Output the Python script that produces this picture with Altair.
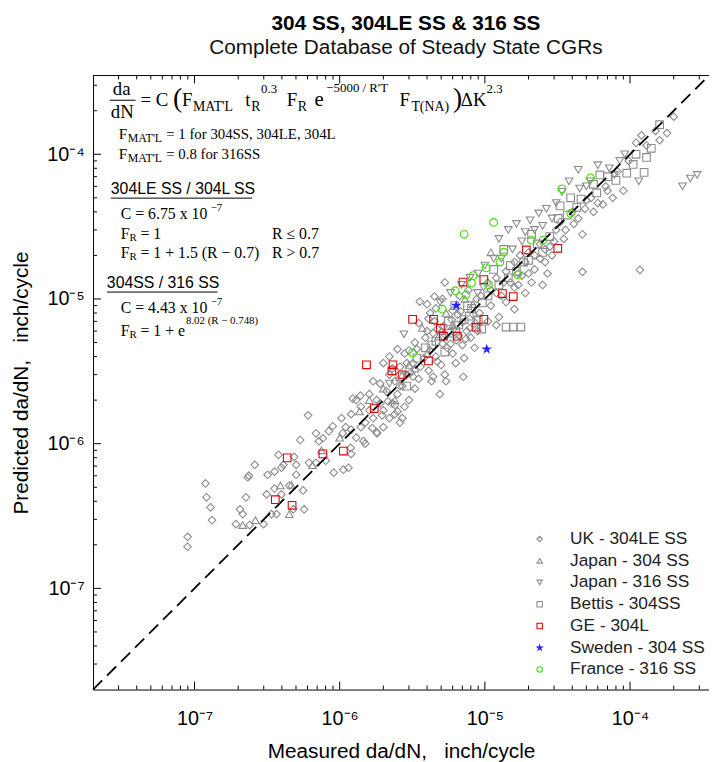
import altair as alt
import pandas as pd

# ---------------- data ----------------
SERIES = ["UK - 304LE SS", "Japan - 304 SS", "Japan - 316 SS", "Bettis - 304SS",
          "GE - 304L", "Sweden - 304 SS", "France - 316 SS"]

# (measured da/dN, predicted da/dN)  inch/cycle
UK = [
    (8.96e-8, 2.27e-7), (8.96e-8, 1.94e-7), (1.19e-7, 5.31e-7), (1.21e-7, 4.26e-7), (1.29e-7, 3.63e-7),
    (1.32e-7, 2.96e-7), (1.93e-7, 2.78e-7), (2.06e-7, 3.52e-7), (2.15e-7, 3.26e-7), (2.26e-7, 4.26e-7),
    (2.33e-7, 5.84e-7), (2.37e-7, 6.02e-7), (2.60e-7, 7.14e-7), (3.19e-7, 6.10e-7), (3.56e-7, 6.41e-7),
    (3.79e-7, 8.38e-7), (3.97e-7, 6.82e-7), (4.86e-7, 8.11e-7), (5.35e-7, 1.06e-6), (6.06e-7, 1.57e-6),
    (6.87e-7, 1.18e-6), (7.20e-7, 1.04e-6), (7.66e-7, 1.09e-6), (8.42e-7, 1.22e-6), (8.96e-7, 1.32e-6),
    (1.03e-6, 1.50e-6), (1.05e-6, 1.18e-6), (1.15e-6, 6.82e-7), (1.06e-6, 6.61e-7), (9.10e-7, 6.30e-7),
    (1.19e-6, 9.35e-7), (1.46e-6, 1.04e-6), (1.68e-6, 1.28e-6), (1.81e-6, 1.18e-6), (1.96e-6, 1.57e-6),
    (4.50e-7, 5.14e-7), (5.02e-7, 6.10e-7), (5.60e-7, 4.75e-7), (5.69e-7, 3.52e-7), (3.14e-7, 4.46e-7),
    (3.56e-7, 4.90e-7), (3.97e-7, 4.46e-7), (3.67e-7, 3.26e-7), (3.39e-7, 3.26e-7), (2.99e-7, 2.78e-7),
    (2.40e-7, 2.74e-7), (4.79e-7, 3.52e-7), (4.10e-7, 7.14e-7), (5.02e-7, 7.14e-7), (6.15e-7, 7.38e-7),
    (6.87e-7, 7.38e-7), (8.03e-7, 7.62e-7), (1.39e-6, 2.15e-6), (1.23e-6, 2.05e-6), (2.15e-6, 1.96e-6),
    (1.1e-6, 1.3e-6), (1.2e-6, 1.6e-6), (1.3e-6, 1.1e-6), (1.4e-6, 1.8e-6), (1.5e-6, 1.4e-6),
    (1.6e-6, 2.2e-6), (1.7e-6, 1.5e-6), (1.8e-6, 2.0e-6), (1.9e-6, 2.6e-6), (2.0e-6, 1.7e-6),
    (2.1e-6, 2.3e-6), (2.2e-6, 3.0e-6), (2.3e-6, 1.9e-6), (2.4e-6, 2.7e-6), (2.5e-6, 2.2e-6),
    (2.6e-6, 3.4e-6), (2.7e-6, 2.5e-6), (2.8e-6, 1.8e-6), (2.9e-6, 3.0e-6), (1.5e-6, 1.0e-6),
    (2.0e-6, 1.3e-6), (2.4e-6, 1.6e-6), (1.3e-6, 2.0e-6), (1.7e-6, 2.7e-6), (2.2e-6, 4.0e-6),
    (2.5e-6, 4.5e-6), (2.8e-6, 4.2e-6), (2.0e-6, 3.6e-6), (1.2e-6, 8.5e-7), (1.8e-6, 1.2e-6),
    (3.0e-6, 2.0e-6), (2.6e-6, 1.4e-6), (2.2e-6, 1.5e-6),
    (3.56e-6, 9.6e-6), (4.0e-6, 9.2e-6), (5.3e-6, 1.3e-5), (4.5e-6, 1.04e-5), (7.1e-6, 2.9e-6),
    (4.9e-6, 2.2e-6), (5.4e-6, 2.7e-6), (4.3e-6, 2.7e-6), (2.7e-6, 1.5e-6), (2.4e-6, 1.85e-6),
    (2.5e-6, 1.67e-6),
    (3.2e-6, 3.6e-6), (3.4e-6, 4.5e-6), (3.5e-6, 2.8e-6), (3.8e-6, 3.9e-6), (4.0e-6, 6.0e-6),
    (4.1e-6, 3.2e-6), (4.5e-6, 7.0e-6), (4.6e-6, 4.0e-6), (5.0e-6, 3.5e-6), (5.2e-6, 6.5e-6),
    (5.5e-6, 4.6e-6), (5.9e-6, 7.2e-6), (6.0e-6, 4.2e-6), (6.4e-6, 5.2e-6), (6.8e-6, 8.2e-6),
    (7.0e-6, 4.8e-6), (7.5e-6, 6.0e-6), (8.0e-6, 5.4e-6), (8.6e-6, 6.8e-6), (9.2e-6, 8.0e-6),
    (3.0e-6, 4.4e-6), (3.3e-6, 2.4e-6), (4.2e-6, 8.0e-6), (4.4e-6, 2.9e-6), (5.3e-6, 3.0e-6),
    (6.3e-6, 3.6e-6), (7.2e-6, 3.9e-6), (8.5e-6, 4.6e-6), (3.1e-6, 3.1e-6), (4.7e-6, 6.2e-6),
    (6.5e-6, 7.8e-6), (8.8e-6, 1.0e-5),
    (3.3e-6, 5.0e-6), (3.6e-6, 3.4e-6), (3.9e-6, 5.4e-6), (4.2e-6, 4.4e-6), (4.4e-6, 5.8e-6),
    (4.7e-6, 3.7e-6), (5.1e-6, 4.9e-6), (5.4e-6, 5.6e-6), (5.8e-6, 4.9e-6), (6.1e-6, 6.2e-6),
    (6.6e-6, 5.6e-6), (7.0e-6, 6.9e-6), (7.4e-6, 5.3e-6), (7.9e-6, 6.3e-6), (8.3e-6, 7.8e-6),
    (8.9e-6, 6.0e-6), (9.4e-6, 1.05e-5), (3.5e-6, 6.8e-6), (4.1e-6, 7.3e-6), (4.6e-6, 8.6e-6),
    (5.1e-6, 1.0e-5), (6.0e-6, 8.3e-6), (6.7e-6, 1.05e-5), (7.7e-6, 1.15e-5), (2.6e-6, 2.5e-6),
    (2.9e-6, 3.6e-6), (3.2e-6, 2.9e-6), (2.3e-6, 3.3e-6), (1.9e-6, 1.9e-6), (1.6e-6, 1.7e-6),
    (1.4e-6, 1.3e-6), (1.2e-6, 1.25e-6),
    (1.05e-5, 1.3e-5), (1.1e-5, 9.0e-6), (1.2e-5, 1.1e-5), (1.25e-5, 7.5e-6), (1.35e-5, 1.3e-5),
    (1.4e-5, 9.5e-6), (1.6e-5, 1.2e-5), (1.7e-5, 1.5e-5), (1.9e-5, 1.1e-5), (2.0e-5, 2.1e-5),
    (2.2e-5, 1.6e-5), (2.4e-5, 1.9e-5), (2.6e-5, 2.2e-5), (2.7e-5, 1.5e-5), (2.9e-5, 2.0e-5),
    (1.2e-5, 6.6e-6), (1.6e-5, 8.5e-6), (2.1e-5, 1.3e-5), (2.5e-5, 1.25e-5), (1.05e-5, 7.0e-6),
    (1.75e-5, 2.0e-5),
    (1.1e-5, 1.15e-5), (1.2e-5, 1.4e-5), (1.3e-5, 1.05e-5), (1.4e-5, 1.55e-5), (1.5e-5, 1.3e-5),
    (1.6e-5, 1.8e-5), (1.7e-5, 1.25e-5), (1.8e-5, 1.45e-5), (1.9e-5, 1.8e-5), (2.0e-5, 1.5e-5),
    (2.2e-5, 2.0e-5), (2.4e-5, 2.4e-5), (2.6e-5, 1.8e-5), (2.8e-5, 2.3e-5), (3.0e-5, 2.5e-5),
    (3.1e-5, 3.0e-5), (3.5e-5, 2.6e-5), (4.1e-5, 3.3e-5), (4.7e-5, 2.8e-5), (5.6e-5, 4.0e-5),
    (6.5e-5, 4.5e-5), (7.6e-5, 5.0e-5), (9.0e-5, 5.6e-5), (4.7e-5, 1.54e-5), (1.17e-4, 1.59e-5),
    (5.0e-5, 4.8e-5), (6.8e-5, 6.0e-5),
    (3.3e-5, 3.4e-5), (3.6e-5, 3.0e-5), (4.0e-5, 4.0e-5), (4.4e-5, 3.6e-5), (4.9e-5, 4.2e-5),
    (5.4e-5, 5.0e-5), (6.0e-5, 4.6e-5), (7.0e-5, 5.6e-5), (8.2e-5, 7.6e-5), (9.8e-5, 9.0e-5),
    (2.0e-4, 1.82e-4), (1.2e-4, 1.35e-4), (1.1e-4, 1.2e-4), (1.6e-4, 1.25e-4), (1.3e-4, 1.15e-4),
    (1.5e-4, 1.45e-4), (1.8e-4, 1.4e-4),
]
JAPAN_304 = [
    (2.63e-7, 2.96e-7), (2.15e-7, 2.74e-7), (4.5e-7, 3.26e-7), (4.64e-7, 5.2e-7), (3.9e-7, 5.14e-7),
    (1.37e-6, 1.67e-6), (6.5e-7, 7.1e-7), (2.0e-6, 2.4e-6), (2.7e-6, 3.0e-6), (2.4e-6, 2.0e-6),
    (4.8e-6, 5.5e-6), (3.7e-6, 6.3e-6), (5.4e-6, 8.0e-6), (7.3e-6, 1.0e-5), (8.3e-6, 9.2e-6),
    (3.3e-6, 3.3e-6), (1.1e-5, 2.1e-5), (3.0e-6, 3.5e-6), (4.0e-6, 4.2e-6), (5.0e-6, 6.0e-6),
    (6.0e-6, 6.6e-6), (1.6e-6, 2.0e-6), (1.0e-6, 1.1e-6), (7.5e-7, 9.0e-7),
]
JAPAN_316 = [
    (2.77e-6, 5.7e-6), (2.2e-6, 2.6e-6),
    (4.9e-6, 9.5e-6), (5.8e-6, 1.1e-5), (6.9e-6, 1.25e-5), (7.9e-6, 1.4e-5), (9.0e-6, 1.5e-5),
    (8.9e-6, 1.1e-5), (9.8e-6, 1.2e-5),
    (1.3e-5, 1.9e-5), (1.55e-5, 2.2e-5), (1.8e-5, 2.5e-5), (2.5e-5, 3.2e-5), (2.9e-5, 3.6e-5),
    (1.25e-5, 2.6e-5), (1.45e-5, 3.0e-5), (1.65e-5, 3.3e-5), (2.05e-5, 3.5e-5), (2.35e-5, 3.9e-5),
    (2.65e-5, 4.2e-5),
    (4.5e-5, 5.8e-5), (5.3e-5, 6.5e-5), (7.2e-5, 8.0e-5), (8.5e-5, 9.0e-5), (3.4e-5, 5.5e-5),
    (3.8e-5, 6.5e-5), (4.4e-5, 7.8e-5),
    (2.6e-4, 6.8e-5), (2.9e-4, 7.2e-5), (1.15e-4, 6.5e-5),
    (1.0e-5, 1.7e-5), (1.15e-5, 1.9e-5), (1.9e-5, 2.9e-5), (2.2e-5, 3.0e-5), (3.1e-5, 4.6e-5),
    (5.0e-5, 6.0e-5), (6.0e-5, 8.4e-5), (7.8e-5, 7.2e-5), (9.2e-5, 1.0e-4), (2.3e-4, 6.0e-5),
]
BETTIS = [
    (2.6e-6, 2.9e-6), (2.9e-6, 2.5e-6),
    (4.3e-6, 4.8e-6), (5.7e-6, 5.8e-6), (6.6e-6, 6.6e-6), (7.8e-6, 7.6e-6), (9.5e-6, 6.2e-6),
    (3.9e-6, 4.6e-6), (5.6e-6, 7.0e-6), (7.6e-6, 9.0e-6), (9.6e-6, 9.4e-6), (6.2e-6, 9.0e-6),
    (1.15e-5, 1.6e-5), (1.5e-5, 1.7e-5), (1.85e-5, 1.8e-5), (2.3e-5, 2.4e-5), (2.8e-5, 2.7e-5),
    (1.35e-5, 2.2e-5), (1.4e-5, 6.4e-6), (1.57e-5, 6.4e-6), (1.77e-5, 6.4e-6), (2.1e-5, 2.8e-5),
    (3.7e-5, 3.8e-5), (4.3e-5, 4.3e-5), (5.9e-5, 5.4e-5), (8.0e-5, 6.6e-5), (9.5e-5, 7.4e-5),
    (3.3e-5, 4.4e-5), (6.2e-5, 7.2e-5), (3.9e-5, 5.0e-5),
    (1.05e-4, 8.5e-5), (1.3e-4, 9.5e-5), (1.4e-4, 1.1e-4), (1.25e-4, 7.5e-5),
    (3.4e-6, 3.9e-6), (4.6e-6, 5.1e-6), (5.3e-6, 4.3e-6), (6.3e-6, 6.0e-6), (7.2e-6, 7.2e-6),
    (8.1e-6, 8.6e-6), (9.0e-6, 7.1e-6), (1.05e-5, 1.05e-5), (1.25e-5, 1.25e-5), (1.45e-5, 1.4e-5),
    (1.65e-5, 1.55e-5), (2.0e-5, 1.85e-5), (2.5e-5, 2.1e-5), (3.2e-5, 3.6e-5), (4.6e-5, 4.9e-5),
    (5.6e-5, 6.2e-5), (7.0e-5, 7.0e-5), (1.1e-4, 1.0e-4), (1.6e-4, 1.6e-4),
]
GE = [
    (1.93e-5, 2.18e-5), (3.18e-5, 2.24e-5), (7.08e-6, 1.31e-5), (9.84e-6, 1.36e-5), (1.32e-5, 1.09e-5),
    (1.57e-5, 1.04e-5), (3.18e-6, 7.23e-6), (4.43e-6, 7.23e-6), (9.84e-6, 7.23e-6), (4.94e-6, 6.28e-6),
    (8.69e-6, 6.38e-6), (5.18e-6, 5.53e-6), (6.46e-6, 5.53e-6), (4.09e-6, 3.73e-6), (1.53e-6, 3.51e-6),
    (2.33e-6, 3.51e-6), (2.29e-6, 3.19e-6), (2.69e-6, 2.99e-6), (1.73e-6, 1.75e-6), (4.35e-7, 7.98e-7),
    (7.66e-7, 8.5e-7), (1.06e-6, 8.9e-7), (3.6e-7, 4.1e-7), (4.7e-7, 3.75e-7),
]
SWEDEN = [(6.35e-6, 9.0e-6), (1.03e-5, 4.5e-6)]
FRANCE = [
    (1.35e-5, 2.11e-5), (1.27e-5, 1.80e-5), (1.02e-5, 1.64e-5), (8.3e-6, 1.45e-5), (8.1e-6, 1.29e-5),
    (1.06e-5, 1.25e-5), (1.68e-5, 1.47e-5), (6.25e-6, 1.14e-5), (7.43e-6, 1.07e-5), (5.09e-6, 8.5e-6),
    (3.18e-6, 4.24e-6), (3.4e-5, 5.77e-5), (5.35e-5, 6.87e-5), (3.9e-5, 3.9e-5), (1.15e-5, 3.38e-5),
    (7.2e-6, 2.8e-5), (2.09e-5, 2.55e-5), (2.52e-5, 2.55e-5),
]

DOMAIN = [2e-8, 3.5e-4]
ONE_TO_ONE = [2e-8, 3.5e-4]
MAJOR = [1e-7, 1e-6, 1e-5, 1e-4]
MAJOR_LABELS = ["10⁻⁷", "10⁻⁶", "10⁻⁵", "10⁻⁴"]
MINOR = [3e-8, 4e-8, 5e-8, 6e-8, 7e-8, 8e-8, 9e-8,
         2e-7, 3e-7, 4e-7, 5e-7, 6e-7, 7e-7, 8e-7, 9e-7,
         2e-6, 3e-6, 4e-6, 5e-6, 6e-6, 7e-6, 8e-6, 9e-6,
         2e-5, 3e-5, 4e-5, 5e-5, 6e-5, 7e-5, 8e-5, 9e-5,
         2e-4, 3e-4]

STAR = ("M0,-1L0.2245,-0.309L0.951,-0.309L0.363,0.118L0.588,0.809L0,0.382"
        "L-0.588,0.809L-0.363,0.118L-0.951,-0.309L-0.2245,-0.309Z")
SHAPES = ["diamond", "triangle-up", "triangle-down", "square", "square", STAR, "circle"]
GRAY = "#8c8c8c"
STROKES = [GRAY, GRAY, GRAY, GRAY, "#e40000", "#2424ff", "#3fe000"]
FILLS = ["transparent", "transparent", "transparent", "transparent", "transparent", "#2424ff", "transparent"]
WIDTHS = [1.1, 1.1, 1.1, 1.1, 2.6, 1.0, 2.6]

# ---------------- build tables ----------------
def frame(name, pts):
    return pd.DataFrame({"series": name, "measured": [p[0] for p in pts], "predicted": [p[1] for p in pts]})

gray_df = pd.concat([frame(SERIES[0], UK), frame(SERIES[1], JAPAN_304),
                     frame(SERIES[2], JAPAN_316), frame(SERIES[3], BETTIS)], ignore_index=True)
color_df = pd.concat([frame(SERIES[4], GE), frame(SERIES[5], SWEDEN),
                      frame(SERIES[6], FRANCE)], ignore_index=True)
line_df = pd.DataFrame({"measured": ONE_TO_ONE, "predicted": ONE_TO_ONE})
ONE = pd.DataFrame({"k": [0]})

W, H = 623, 621
OX, OY = 94, 72  # page position of plot origin
SANS = "Liberation Sans"
SERIF = "Liberation Serif"

label_expr = " : ".join(
    f"datum.value < {m * 3:.0e} ? '{lab}'" for m, lab in zip(MAJOR[:-1], MAJOR_LABELS[:-1])
) + f" : '{MAJOR_LABELS[-1]}'"

xscale = alt.Scale(type="log", domain=DOMAIN, nice=False)
yscale = alt.Scale(type="log", domain=DOMAIN, nice=False)

x_axis = alt.Axis(values=MAJOR, labelExpr=label_expr, ticks=False, grid=False,
                  title="Measured da/dN,\u00a0\u00a0 inch/cycle", labelFontSize=20, labelPadding=19,
                  titleFontSize=21, titleFontWeight="normal", titlePadding=13, labelFlush=False)
y_axis = alt.Axis(values=MAJOR, labelExpr=label_expr, ticks=False, grid=False,
                  title="Predicted da/dN,\u00a0\u00a0 inch/cycle", labelFontSize=20, labelPadding=9,
                  titleFontSize=21, titleFontWeight="normal", titlePadding=15, labelFlush=False)

X_ENC = alt.X("measured:Q", scale=xscale, axis=x_axis)
Y_ENC = alt.Y("predicted:Q", scale=yscale, axis=y_axis)

leg = alt.Legend(title=None, orient="none", legendX=443, legendY=460, labelFontSize=17.5,
                 labelFont=SANS, labelColor="#222222", symbolSize=30, labelOffset=22,
                 rowPadding=3, padding=0)

def point_layer(df):
    return alt.Chart(df).mark_point(filled=False, size=60, opacity=1).encode(
        x=X_ENC, y=Y_ENC,
        shape=alt.Shape("series:N", scale=alt.Scale(domain=SERIES, range=SHAPES), legend=leg),
        stroke=alt.Stroke("series:N", scale=alt.Scale(domain=SERIES, range=STROKES), legend=leg),
        fill=alt.Fill("series:N", scale=alt.Scale(domain=SERIES, range=FILLS), legend=leg),
        strokeWidth=alt.StrokeWidth("series:N", scale=alt.Scale(domain=SERIES, range=WIDTHS), legend=leg),
    )

gray = point_layer(gray_df)
colored = point_layer(color_df)
diag = alt.Chart(line_df).mark_line(color="black", strokeDash=[13, 7], strokeWidth=1.8).encode(
    x=X_ENC, y=Y_ENC)

def xticks(vals, length, top):
    df = pd.DataFrame({"measured": vals})
    y0, y1 = (0, length) if top else (H, H - length)
    return alt.Chart(df).mark_rule(color="black", strokeWidth=1).encode(
        x=X_ENC, y=alt.value(y0), y2=alt.value(y1))

def yticks(vals, length):
    df = pd.DataFrame({"predicted": vals})
    return alt.Chart(df).mark_rule(color="black", strokeWidth=1).encode(
        y=Y_ENC, x=alt.value(0), x2=alt.value(length))

top_border = alt.Chart(ONE).mark_rule(color="black", strokeWidth=1).encode(
    x=alt.value(0), x2=alt.value(W), y=alt.value(0))

def txt(s, x, y, size=16, font=SERIF, weight="normal"):
    return alt.Chart(ONE).mark_text(text=s, align="left", baseline="middle", fontSize=size,
                                    font=font, fontWeight=weight, color="black").encode(
        x=alt.value(x - OX), y=alt.value(y - OY))

def hline(x0, x1, y, w=1):
    return alt.Chart(ONE).mark_rule(color="black", strokeWidth=w).encode(
        x=alt.value(x0 - OX), x2=alt.value(x1 - OX), y=alt.value(y - OY))

ann = [
    txt("da", 114, 86, 19), hline(111, 137, 97), txt("dN", 112, 109, 19),
    txt("= C", 142, 97, 19), txt("(", 175, 96, 28), txt("F", 184, 97, 19),
    txt("MAT'L", 195, 104, 14), txt("t", 248, 97, 19), txt("R", 254, 104, 14),
    txt("0.3", 264, 86, 13), txt("F", 290, 97, 19), txt("R", 301, 104, 14),
    txt("e", 318, 97, 21), txt("\u22125000 / R'T", 330, 85, 13),
    txt("F", 404, 97, 19), txt("T(NA)", 416, 104, 14), txt(")", 458, 96, 28),
    txt("\u0394K", 466, 97, 19), txt("2.3", 492, 86, 13),
    txt("F", 120, 131, 15.5), txt("MAT'L", 129, 135, 12), txt("= 1  for 304SS, 304LE, 304L", 168, 131, 15),
    txt("F", 120, 151, 15.5), txt("MAT'L", 129, 155, 12), txt("= 0.8  for 316SS", 168, 151, 15),
    txt("304LE SS / 304L SS", 112, 187, 16, SANS), hline(112, 255, 196),
    txt("C = 6.75 x 10", 122, 212, 16), txt("\u22127", 213, 206, 11),
    txt("F", 122, 232, 16), txt("R", 131, 236, 11), txt("= 1", 142, 232, 16), txt("R \u2264 0.7", 275, 232, 16),
    txt("F", 122, 252, 16), txt("R", 131, 256, 11), txt("= 1 + 1.5 (R \u2212 0.7)", 142, 252, 16),
    txt("R > 0.7", 275, 252, 16),
    txt("304SS / 316 SS", 108, 282, 16, SANS), hline(108, 220, 291),
    txt("C = 4.43 x 10", 122, 307, 16), txt("\u22127", 213, 301, 11),
    txt("F", 122, 330, 16), txt("R", 131, 334, 11), txt("= 1 + e", 142, 330, 16),
    txt("8.02 (R \u2212 0.748)", 188, 320, 11),
]

layers = [gray, diag, colored,
          xticks(MAJOR, 8, False), xticks(MINOR, 4, False),
          xticks(MAJOR, 8, True), xticks(MINOR, 4, True),
          yticks(MAJOR, 8), yticks(MINOR, 4), top_border] + ann

chart = alt.layer(*layers).properties(
    width=W, height=H,
    padding={"left": OX - 8, "top": OY - 8, "right": 0, "bottom": 70},
    autosize=alt.AutoSizeParams(type="none"),
    title=alt.TitleParams(text="304 SS, 304LE SS & 316 SS",
                          subtitle="Complete Database of Steady State CGRs",
                          font=SANS, fontSize=21, fontWeight="bold", color="black",
                          subtitleFont=SANS, subtitleFontSize=21, subtitleColor="#111111",
                          anchor="middle", frame="group", offset=14, subtitlePadding=3, dx=5),
).configure_view(stroke=None).configure_axis(
    domainColor="black", domainWidth=1, labelFont=SANS, titleFont=SANS,
    labelColor="black", titleColor="black"
)

chart.save("out.html", embed_options={"renderer": "svg", "actions": False})
